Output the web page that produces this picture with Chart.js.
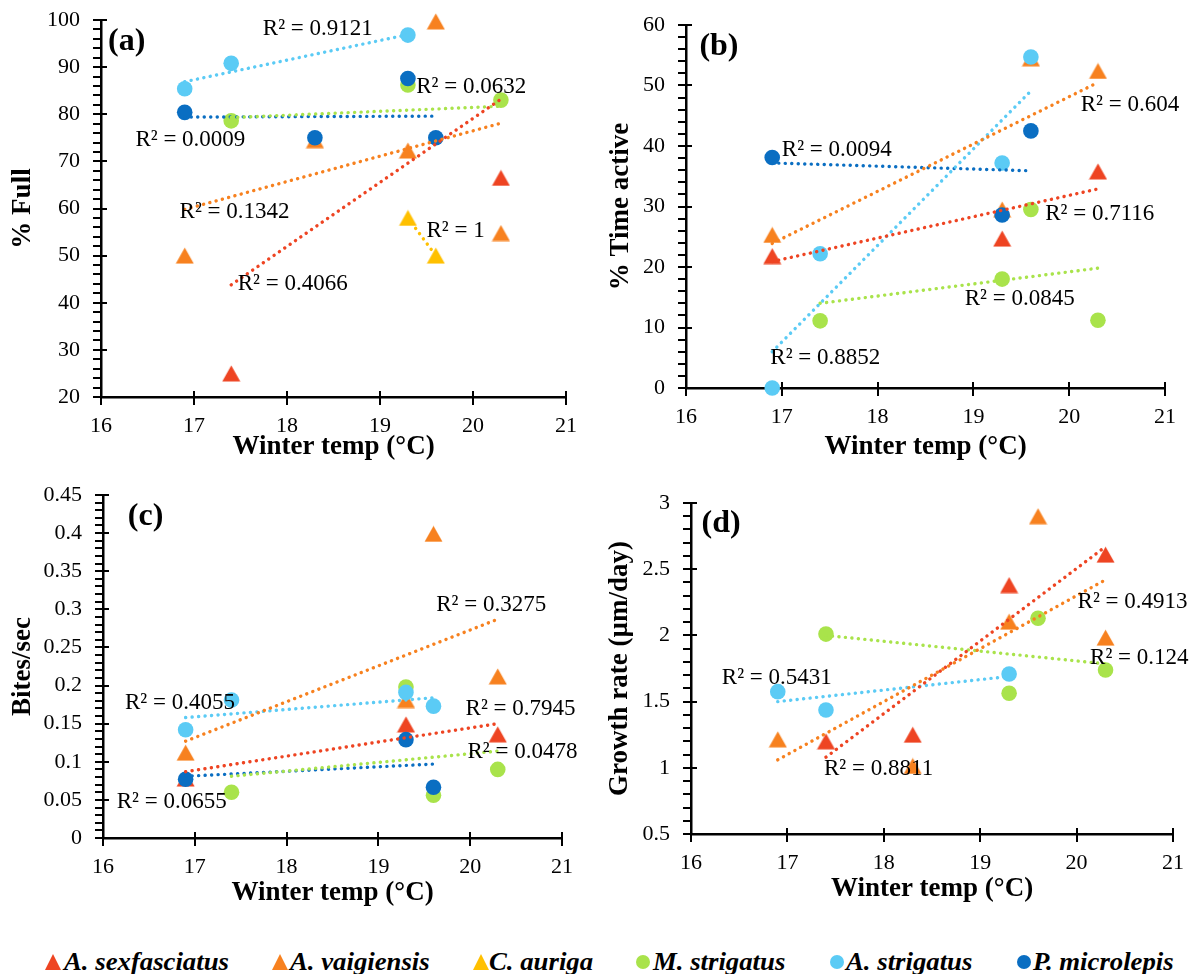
<!DOCTYPE html>
<html>
<head>
<meta charset="utf-8">
<script src="https://cdn.jsdelivr.net/npm/chart.js@4.4.1/dist/chart.umd.min.js"></script>
<style>
  body { margin: 0; background: #fff; width: 1201px; height: 974px; position: relative; overflow: hidden; }
  canvas { position: absolute; }
  .leg-mark { position: absolute; }
  .leg-text { position: absolute; font: italic bold 25px "Liberation Serif", "Times New Roman", serif; line-height: 30px;
              white-space: nowrap; color: #000; transform: scaleX(1.07); transform-origin: left center; }
</style>
</head>
<body>
<canvas id="chartA" width="600" height="470" style="left:0;top:0"></canvas>
<canvas id="chartB" width="601" height="470" style="left:600px;top:0"></canvas>
<canvas id="chartC" width="600" height="440" style="left:0;top:470px"></canvas>
<canvas id="chartD" width="601" height="440" style="left:600px;top:470px"></canvas>
<div id="legend"></div>
<script>
// sites, by winter water temperature (°C)
const temps = [16.9, 17.4, 18.3, 19.3, 19.6, 20.3];

const species = ['A. sexfasciatus', 'A. vaigiensis', 'C. auriga', 'M. strigatus', 'A. strigatus', 'P. microlepis'];
const colors = ['#EE4422', '#F7811F', '#FFC000', '#A9E34B', '#5BCBF5', '#0A6EC2'];
const markers = ['triangle', 'triangle', 'triangle', 'circle', 'circle', 'circle'];

// (a) % Full  (null = species not recorded at that site)
const fullSex = [null, 25, null, null, null, 66.5];
const fullVai = [50, null, 74.5, 72.3, 99.7, 54.8];
const fullAur = [null, null, null, 58, 50, null];
const fullMst = [null, 78.6, null, 86.2, null, 83];
const fullAst = [85.4, 90.8, null, 96.8, null, null];
const fullPmi = [80.4, null, 75, 87.6, 75, null];
const fullTrend = [[43.8, 83.2], [59.8, 78.1], [58, 50], [79.3, 81.7], [86.9, 96.9], [79.4, 79.6]];
const fullR2 = ['0.4066', '0.1342', '1', '0.0632', '0.9121', '0.0009'];

// (b) % Time active
const activeSex = [21.8, null, null, 24.7, null, 35.8];
const activeVai = [25.3, null, null, 29.5, 54.5, 52.4];
const activeAur = [null, null, null, null, null, null];
const activeMst = [null, 11.1, null, 18.0, 29.5, 11.2];
const activeAst = [0, 22.2, null, 37.2, 54.7, null];
const activePmi = [38.1, null, null, 28.6, 42.5, null];
const activeTrend = [[20.9, 32.9], [23.9, 50.5], null, [14.0, 19.8], [6.0, 49.1], [37.2, 35.9]];
const activeR2 = ['0.7116', '0.604', null, '0.0845', '0.8852', '0.0094'];

// (c) Bites/sec
const bitesSex = [0.078, null, null, 0.149, null, 0.136];
const bitesVai = [0.112, null, null, 0.181, 0.399, 0.212];
const bitesAur = [null, null, null, null, null, null];
const bitesMst = [null, 0.060, null, 0.198, 0.056, 0.090];
const bitesAst = [0.142, 0.181, null, 0.191, 0.173, null];
const bitesPmi = [0.077, null, null, 0.129, 0.0665, null];
const bitesTrend = [[0.087, 0.150], [0.127, 0.287], null, [0.081, 0.114], [0.158, 0.184], [0.081, 0.097]];
const bitesR2 = ['0.7945', '0.3275', null, '0.0478', '0.4055', '0.0655'];

// (d) Growth rate (µm/day)
const growthSex = [null, 1.2, 1.25, 2.38, null, 2.61];
const growthVai = [1.215, null, 1.014, 2.104, 2.9, 1.983];
const growthAur = [null, null, null, null, null, null];
const growthMst = [null, 2.01, null, 1.563, 2.13, 1.739];
const growthAst = [1.575, 1.437, null, 1.708, null, null];
const growthPmi = [null, null, null, null, null, null];
const growthTrend = [[1.08, 2.67], [1.06, 2.42], null, [2.0, 1.785], [1.5, 1.69], null];
const growthR2 = ['0.8811', '0.4913', null, '0.124', '0.5431', null];

const serif = '"Liberation Serif", "Times New Roman", serif';
Chart.defaults.font.family = serif;
Chart.defaults.color = '#000';

// Excel-style triangle, centred on its point
function triangleImage(color) {
  const c = document.createElement('canvas');
  c.width = 19; c.height = 17;
  const g = c.getContext('2d');
  g.fillStyle = color;
  g.beginPath();
  g.moveTo(9.5, 0.5); g.lineTo(18.5, 16.5); g.lineTo(0.5, 16.5);
  g.closePath(); g.fill();
  return c;
}

const isMajor = (v, step) => Math.abs(v / step - Math.round(v / step)) < 1e-6;
const fmt = v => String(parseFloat(v.toFixed(3)));

// tick marks (short ones outside the y axis, labelled ones crossing both axes),
// then the R² labels and the panel letter on top of everything
function decorations(major, items) {
  return {
    id: 'decorations',
    afterDatasetsDraw(chart) {
      const ctx = chart.ctx;
      const xs = chart.scales.x, ys = chart.scales.y;
      const left = chart.chartArea.left, bottom = chart.chartArea.bottom;
      ctx.save();
      ctx.fillStyle = '#000000';
      ys.getTicks().forEach(t => {
        const py = Math.round(ys.getPixelForValue(t.value));
        const len = isMajor(t.value, major) ? 14 : 8;
        ctx.fillRect(left - 8, py - 1, len, 2);
      });
      xs.getTicks().forEach(t => {
        const px = Math.round(xs.getPixelForValue(t.value));
        ctx.fillRect(px - 1, bottom - 6, 2, 14);
      });

      ctx.textAlign = 'left';
      ctx.textBaseline = 'middle';
      items.forEach(it => {
        ctx.font = it.font;
        ctx.fillText(it.text, xs.getPixelForValue(it.x), ys.getPixelForValue(it.y));
      });
      ctx.restore();
    }
  };
}

function buildPanel(id, p) {
  const canvas = document.getElementById(id);
  const W = canvas.width, H = canvas.height;
  const datasets = [];
  const items = [{ text: p.tag, x: p.tagPos[0], y: p.tagPos[1], font: 'bold 32px ' + serif }];

  p.series.forEach((vals, s) => {
    const pts = temps.map((t, i) => ({ x: t, y: vals[i] })).filter(pt => pt.y !== null);
    if (!pts.length) return;
    datasets.push({
      label: species[s],
      data: pts,
      order: 6 - s,
      clip: false,
      pointStyle: markers[s] === 'triangle' ? triangleImage(colors[s]) : 'circle',
      pointRadius: 7.8,
      pointBorderWidth: 0,
      backgroundColor: colors[s],
      borderColor: colors[s]
    });
    const tr = p.trend[s];
    if (tr) {
      const xs = pts.map(pt => pt.x);
      datasets.push({
        label: species[s] + ' trend',
        data: [{ x: Math.min(...xs), y: tr[0] }, { x: Math.max(...xs), y: tr[1] }],
        showLine: true,
        order: 0,
        clip: false,
        pointRadius: 0,
        borderColor: colors[s],
        borderWidth: 3.4,
        borderDash: [0.1, 6.4],
        borderCapStyle: 'round',
        fill: false
      });
    }
    if (p.r2[s]) {
      items.push({ text: 'R² = ' + p.r2[s], x: p.r2Pos[s][0], y: p.r2Pos[s][1], font: '23px ' + serif });
    }
  });

  // gap between axis and labels kept in tickLength (not ticks.padding) so it
  // does not also pad the top of the plot; the marks themselves come from the plugin
  const axisLine = { display: true, color: '#000', width: 2.5 };

  return new Chart(canvas, {
    type: 'scatter',
    data: { datasets },
    options: {
      responsive: false,
      animation: false,
      events: [],
      layout: { padding: { left: 0, top: p.area.t, right: W - p.area.r, bottom: 0 }, autoPadding: false },
      plugins: { legend: { display: false }, tooltip: { enabled: false } },
      scales: {
        x: {
          type: 'linear', position: 'bottom', min: 16, max: 21,
          ticks: { stepSize: 1, autoSkip: false, maxRotation: 0, padding: 0, font: { size: 22 } },
          grid: { display: false, drawTicks: true, tickLength: 16 },
          border: axisLine,
          title: { display: true, text: 'Winter temp (°C)', font: { size: 27, weight: 'bold' },
                   padding: { top: 0, bottom: H - 16.2 - p.xTitleY } },
          afterFit: sc => { sc.height = H - p.area.b; }
        },
        y: {
          type: 'linear', position: 'left', min: p.yMin, max: p.yMax,
          ticks: { stepSize: p.yMinor, autoSkip: false, padding: 0, font: { size: 22 },
                   callback: v => isMajor(v, p.yMajor) ? fmt(v) : '' },
          grid: { display: false, drawTicks: true, tickLength: 21 },
          border: axisLine,
          title: { display: true, text: p.yTitle, font: { size: 27, weight: 'bold' },
                   padding: { top: p.yTitleX - 16.2, bottom: 0 } },
          afterFit: sc => { sc.width = p.area.l; }
        }
      }
    },
    plugins: [decorations(p.yMajor, items)]
  });
}

buildPanel('chartA', {
  area: { l: 101, r: 566, t: 20, b: 397 }, xTitleY: 447, yTitleX: 23,
  yMin: 20, yMax: 100, yMinor: 2, yMajor: 10, yTitle: '% Full',
  series: [fullSex, fullVai, fullAur, fullMst, fullAst, fullPmi],
  trend: fullTrend, r2: fullR2,
  r2Pos: [[17.47, 43.9], [16.845, 59.3], [19.5, 55.2], [19.39, 85.7], [17.74, 98.0], [16.37, 74.5]],
  tag: '(a)', tagPos: [16.075, 95.3]
});

buildPanel('chartB', {
  area: { l: 86, r: 565, t: 25, b: 388 }, xTitleY: 447, yTitleX: 21,
  yMin: 0, yMax: 60, yMinor: 2, yMajor: 10, yTitle: '% Time active',
  series: [activeSex, activeVai, activeAur, activeMst, activeAst, activePmi],
  trend: activeTrend, r2: activeR2,
  r2Pos: [[19.75, 28.7], [20.12, 46.8], null, [18.91, 14.7], [16.88, 4.9], [17.0, 39.4]],
  tag: '(b)', tagPos: [16.14, 56.4]
});

buildPanel('chartC', {
  area: { l: 103, r: 562, t: 25, b: 368 }, xTitleY: 423, yTitleX: 23,
  yMin: 0, yMax: 0.45, yMinor: 0.01, yMajor: 0.05, yTitle: 'Bites/sec',
  series: [bitesSex, bitesVai, bitesAur, bitesMst, bitesAst, bitesPmi],
  trend: bitesTrend, r2: bitesR2,
  r2Pos: [[19.95, 0.169], [19.63, 0.306], null, [19.97, 0.1124], [16.24, 0.177], [16.15, 0.0468]],
  tag: '(c)', tagPos: [16.27, 0.4215]
});

buildPanel('chartD', {
  area: { l: 91, r: 573, t: 33, b: 364 }, xTitleY: 419, yTitleX: 20,
  yMin: 0.5, yMax: 3, yMinor: 0.1, yMajor: 0.5, yTitle: 'Growth rate (µm/day)',
  series: [growthSex, growthVai, growthAur, growthMst, growthAst, growthPmi],
  trend: growthTrend, r2: growthR2,
  r2Pos: [[17.38, 0.991], [20.01, 2.255], null, [20.14, 1.832], [16.32, 1.676], null],
  tag: '(d)', tagPos: [16.11, 2.847]
});

// shared legend along the bottom
const legendMarkX = [53, 280, 481, 643, 837, 1024];
const legendTextX = [64, 290, 489, 653, 846, 1033];
const legend = document.getElementById('legend');
species.forEach((name, s) => {
  const mark = document.createElement('div');
  mark.className = 'leg-mark';
  if (markers[s] === 'triangle') {
    Object.assign(mark.style, { left: (legendMarkX[s] - 8) + 'px', top: '954px', width: '16px', height: '16px',
      background: colors[s], clipPath: 'polygon(50% 0, 100% 100%, 0 100%)' });
  } else {
    Object.assign(mark.style, { left: (legendMarkX[s] - 7) + 'px', top: '955px', width: '14px', height: '14px',
      background: colors[s], borderRadius: '50%' });
  }
  legend.appendChild(mark);
  const label = document.createElement('div');
  label.className = 'leg-text';
  label.style.left = legendTextX[s] + 'px';
  label.style.top = '947px';
  label.textContent = name;
  legend.appendChild(label);
});
</script>
</body>
</html>
